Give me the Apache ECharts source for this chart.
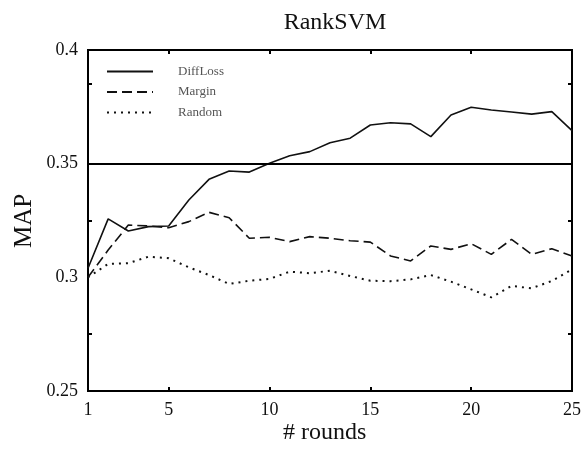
<!DOCTYPE html>
<html>
<head>
<meta charset="utf-8">
<script src="https://cdn.jsdelivr.net/npm/echarts@6/dist/echarts.min.js"></script>
<style>
  html, body { margin: 0; padding: 0; background: #fff; }
  #chart { width: 585px; height: 453px; }
</style>
</head>
<body>
<div id="chart"></div>
<script>
const rounds = [1, 2, 3, 4, 5, 6, 7, 8, 9, 10, 11, 12, 13, 14, 15, 16, 17, 18, 19, 20, 21, 22, 23, 24, 25];
const diffLoss = [0.304, 0.3257, 0.3204, 0.3223, 0.3226, 0.334, 0.3431, 0.3468, 0.3463, 0.3502, 0.3535, 0.3553, 0.3592,
  0.3612, 0.367, 0.368, 0.3675, 0.3619, 0.3714, 0.3748, 0.3736, 0.3727, 0.3718, 0.3729, 0.3645];
const margin = [0.300, 0.312, 0.323, 0.3226, 0.3218, 0.3245, 0.3286, 0.3262, 0.3172, 0.3176, 0.3157, 0.3179, 0.3172,
  0.3161, 0.3155, 0.3094, 0.3072, 0.3138, 0.3123, 0.3148, 0.3101, 0.3167, 0.3101, 0.3126, 0.3094];
const random = [0.300, 0.3059, 0.3062, 0.3091, 0.3084, 0.3044, 0.301, 0.2971, 0.2985, 0.2993, 0.3025, 0.3018, 0.3029,
  0.3006, 0.2985, 0.2983, 0.2991, 0.301, 0.2981, 0.2947, 0.2912, 0.2962, 0.2952, 0.2984, 0.3035];
const xLabels = [1, 5, 10, 15, 20, 25];
const xTicks = [5, 10, 15, 20];
const yLabels = [0.25, 0.3, 0.35, 0.4];
const yTicks = [0.275, 0.325, 0.385];
const baseline = 0.35;

const font = "Liberation Serif";
const chart = echarts.init(document.getElementById("chart"));

const pairs = (ys) => rounds.map((r, i) => [r, ys[i]]);

function xAxis(pos, showLabel) {
  return {
    type: "value", position: pos, min: 1, max: 25,
    axisLine: { show: false },
    splitLine: { show: false },
    axisTick: { inside: true, length: 4, customValues: xTicks, lineStyle: { color: "#000", width: 2 } },
    axisLabel: {
      show: showLabel, customValues: xLabels, margin: 10,
      fontFamily: font, fontSize: 18, color: "#111"
    }
  };
}
function yAxis(pos, showLabel) {
  return {
    type: "value", position: pos, min: 0.25, max: 0.4,
    axisLine: { show: false },
    splitLine: { show: false },
    axisTick: { inside: true, length: 4, customValues: yTicks, lineStyle: { color: "#000", width: 2 } },
    axisLabel: {
      show: showLabel, customValues: yLabels, margin: 10,
      fontFamily: font, fontSize: 18, color: "#111",
      formatter: (v) => String(v)
    }
  };
}

chart.setOption({
  animation: false,
  title: {
    text: "RankSVM", left: 330, top: 6, textAlign: "center",
    textStyle: { fontFamily: font, fontSize: 24, fontWeight: "normal", color: "#111" }
  },
  grid: {
    left: 88, right: 13, top: 50, bottom: 62,
    show: true, borderColor: "#000", borderWidth: 2, backgroundColor: "transparent"
  },
  legend: {
    orient: "vertical", left: 101, top: 60, itemWidth: 46, itemHeight: 14, itemGap: 7.5,
    itemStyle: { opacity: 0 },
    textStyle: { fontFamily: font, fontSize: 13, color: "#555", padding: [0, 0, 0, 20] },
    data: ["DiffLoss", "Margin", "Random"]
  },
  xAxis: [xAxis("bottom", true), xAxis("top", false)],
  yAxis: [yAxis("left", true), yAxis("right", false)],
  graphic: [
    {
      type: "text", left: 283, top: 421,
      style: { text: "# rounds", font: "24px " + font, fill: "#111" }
    },
    {
      type: "text", x: 12, y: 248, rotation: Math.PI / 2,
      style: { text: "MAP", font: "25px " + font, fill: "#111" }
    }
  ],
  series: [
    {
      name: "DiffLoss", type: "line", symbol: "none", data: pairs(diffLoss),
      lineStyle: { color: "#111", width: 1.6, type: "solid" },
      itemStyle: { color: "#111" },
      markLine: {
        silent: true, symbol: "none", label: { show: false },
        lineStyle: { color: "#000", width: 2.2, type: "solid" },
        data: [{ yAxis: baseline }]
      }
    },
    {
      name: "Margin", type: "line", symbol: "none", data: pairs(margin),
      lineStyle: { color: "#111", width: 1.6, type: [10, 5] },
      itemStyle: { color: "#111" }
    },
    {
      name: "Random", type: "line", symbol: "none", data: pairs(random),
      lineStyle: { color: "#111", width: 2, type: [2, 5] },
      itemStyle: { color: "#111" }
    }
  ]
});
</script>
</body>
</html>
